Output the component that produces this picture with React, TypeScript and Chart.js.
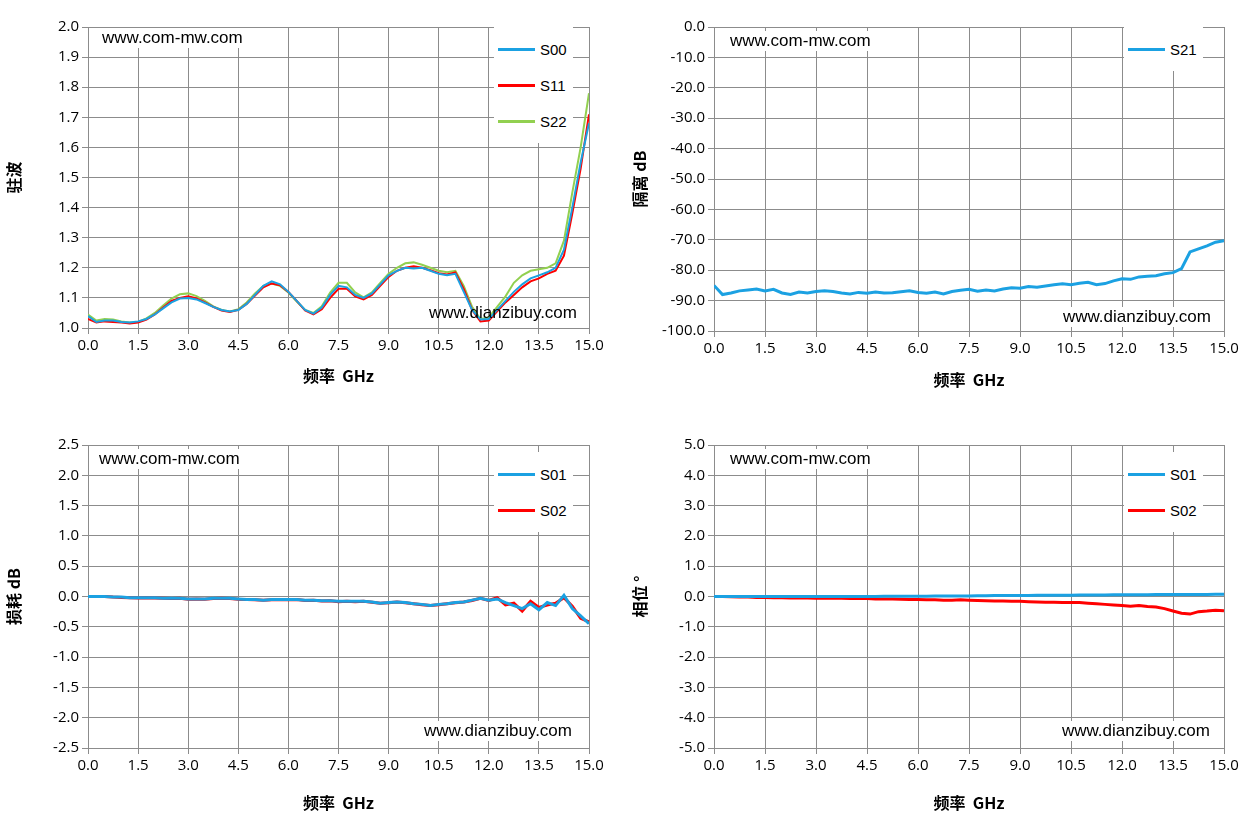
import React, { useEffect, useRef } from "react";
import { Chart, registerables } from "chart.js";
Chart.register(...registerables);

const freq = Array.from({ length: 61 }, (_, i) => i * 0.25);

const s00 = [1.04,1.02,1.025,1.025,1.02,1.018,1.022,1.03,1.045,1.065,1.085,1.098,1.1,1.095,1.083,1.07,1.06,1.055,1.06,1.08,1.11,1.14,1.155,1.145,1.12,1.09,1.06,1.048,1.068,1.11,1.14,1.135,1.11,1.1,1.115,1.145,1.175,1.19,1.2,1.198,1.2,1.19,1.18,1.175,1.18,1.12,1.06,1.028,1.03,1.06,1.09,1.12,1.145,1.165,1.175,1.185,1.2,1.26,1.4,1.55,1.68];
const s11 = [1.03,1.018,1.022,1.02,1.018,1.015,1.018,1.028,1.045,1.068,1.09,1.1,1.105,1.098,1.085,1.07,1.058,1.053,1.06,1.08,1.108,1.135,1.148,1.142,1.12,1.09,1.058,1.045,1.062,1.1,1.13,1.13,1.105,1.095,1.11,1.14,1.17,1.19,1.2,1.205,1.2,1.192,1.182,1.178,1.185,1.13,1.06,1.022,1.025,1.055,1.085,1.11,1.135,1.155,1.165,1.18,1.19,1.24,1.38,1.53,1.71];
const s22 = [1.045,1.025,1.03,1.028,1.022,1.018,1.02,1.032,1.05,1.075,1.098,1.112,1.115,1.106,1.09,1.072,1.06,1.055,1.062,1.085,1.115,1.14,1.148,1.14,1.118,1.088,1.06,1.05,1.072,1.118,1.15,1.15,1.118,1.102,1.118,1.15,1.18,1.2,1.215,1.218,1.21,1.2,1.19,1.185,1.19,1.14,1.07,1.03,1.035,1.07,1.105,1.15,1.175,1.19,1.195,1.2,1.215,1.29,1.45,1.6,1.78];

const s21 = [-85,-88,-87.5,-86.8,-86.5,-86.2,-86.8,-86.3,-87.5,-88,-87.2,-87.5,-87,-86.8,-87,-87.5,-87.8,-87.3,-87.6,-87.2,-87.5,-87.4,-87.1,-86.8,-87.3,-87.6,-87.2,-87.8,-87,-86.6,-86.3,-86.9,-86.5,-86.8,-86.2,-85.8,-85.9,-85.4,-85.6,-85.2,-84.8,-84.5,-84.8,-84.3,-84,-84.8,-84.4,-83.5,-82.8,-83,-82.2,-82,-81.8,-81.2,-80.8,-79.5,-74,-73,-72,-70.8,-70.3];

const s01 = [0,0,0,-0.01,-0.01,-0.02,-0.02,-0.02,-0.02,-0.03,-0.03,-0.03,-0.04,-0.04,-0.04,-0.03,-0.03,-0.03,-0.04,-0.05,-0.05,-0.06,-0.05,-0.05,-0.05,-0.05,-0.06,-0.06,-0.07,-0.07,-0.08,-0.08,-0.08,-0.08,-0.09,-0.11,-0.1,-0.09,-0.1,-0.12,-0.13,-0.15,-0.13,-0.12,-0.1,-0.09,-0.06,-0.03,-0.06,-0.04,-0.1,-0.15,-0.2,-0.12,-0.22,-0.1,-0.15,0.02,-0.2,-0.32,-0.45];
const s02 = [0,0,0,-0.01,-0.015,-0.02,-0.025,-0.02,-0.025,-0.03,-0.035,-0.03,-0.045,-0.04,-0.045,-0.035,-0.03,-0.035,-0.045,-0.05,-0.055,-0.06,-0.055,-0.05,-0.055,-0.05,-0.065,-0.06,-0.075,-0.07,-0.085,-0.08,-0.085,-0.08,-0.095,-0.11,-0.105,-0.09,-0.105,-0.12,-0.135,-0.15,-0.135,-0.12,-0.105,-0.09,-0.065,-0.03,-0.065,-0.02,-0.14,-0.11,-0.24,-0.08,-0.18,-0.14,-0.11,-0.02,-0.16,-0.36,-0.42];

const p01 = [0,0,0,0,0,0,0,0,0,0,0,0,0,0,0,0,0,0,0,0,0.005,0.005,0.01,0.01,0.01,0.01,0.015,0.015,0.02,0.02,0.02,0.025,0.025,0.03,0.03,0.03,0.035,0.035,0.04,0.04,0.04,0.045,0.045,0.05,0.05,0.05,0.05,0.055,0.055,0.06,0.06,0.06,0.065,0.065,0.07,0.07,0.07,0.07,0.07,0.075,0.075];
const p02 = [0,0,-0.01,-0.02,-0.02,-0.03,-0.03,-0.04,-0.04,-0.05,-0.05,-0.05,-0.06,-0.06,-0.06,-0.06,-0.07,-0.07,-0.07,-0.08,-0.08,-0.08,-0.09,-0.1,-0.1,-0.11,-0.11,-0.12,-0.12,-0.11,-0.12,-0.13,-0.14,-0.15,-0.15,-0.16,-0.16,-0.17,-0.18,-0.19,-0.19,-0.2,-0.2,-0.2,-0.22,-0.24,-0.26,-0.28,-0.3,-0.32,-0.3,-0.33,-0.35,-0.4,-0.48,-0.55,-0.58,-0.5,-0.48,-0.45,-0.47];

const BLUE = "#1ba1e2";
const RED = "#ff0000";
const GREEN = "#92d050";
const tickFont = { family: "'Open Sans', 'Liberation Sans', sans-serif", size: 15 };
const titleFont = { family: "'Noto Sans CJK SC', serif", size: 16, weight: "bold" as const };

type Series = { label: string; data: number[]; color: string; width: number };

function Panel(props: {
  left: number; top: number; w: number; h: number;
  yw: number; padTop: number; padRight: number; padBottom: number; xh: number;
  ymin: number; ymax: number; ystep: number; ytitle: string; series: Series[];
}) {
  const ref = useRef<HTMLCanvasElement>(null);
  useEffect(() => {
    const c = new Chart(ref.current!, {
      type: "line",
      data: {
        datasets: props.series.map((s) => ({
          label: s.label,
          data: freq.map((x, i) => ({ x, y: s.data[i] })),
          borderColor: s.color,
          borderWidth: s.width,
          pointRadius: 0,
          tension: 0,
        })),
      },
      options: {
        animation: false,
        responsive: false,
        layout: { padding: { top: props.padTop, right: props.padRight, left: 0, bottom: props.padBottom } },
        plugins: { legend: { display: false }, tooltip: { enabled: false } },
        scales: {
          x: {
            type: "linear", min: 0, max: 15,
            ticks: { stepSize: 1.5, color: "#000", font: tickFont, callback: (v: any) => Number(v).toFixed(1), maxRotation: 0 },
            grid: { color: "#8c8c8c", tickLength: 6 },
            border: { color: "#8c8c8c" },
            title: { display: true, text: "频率  GHz", color: "#000", font: titleFont, padding: { top: 4 } },
            afterFit: (s: any) => { s.height = props.xh; },
          },
          y: {
            min: props.ymin, max: props.ymax,
            ticks: { stepSize: props.ystep, color: "#000", font: tickFont, callback: (v: any) => Number(v).toFixed(1) },
            grid: { color: "#8c8c8c", tickLength: 6 },
            border: { color: "#8c8c8c" },
            title: { display: true, text: props.ytitle, color: "#000", font: titleFont },
            afterFit: (s: any) => { s.width = props.yw; },
          },
        },
      } as any,
    });
    return () => c.destroy();
  }, []);
  return (
    <canvas ref={ref} width={props.w} height={props.h}
      style={{ position: "absolute", left: props.left, top: props.top, width: props.w, height: props.h }} />
  );
}

const txt: React.CSSProperties = { position: "absolute", fontFamily: "'Liberation Sans', Arial, sans-serif", fontSize: 17, color: "#000", lineHeight: "20px", whiteSpace: "nowrap" };
const txtBg: React.CSSProperties = { ...txt, background: "#fff" };

function Legend(props: { x: number; y: number; items: { label: string; color: string }[] }) {
  return (
    <div style={{ position: "absolute", left: props.x, top: props.y, background: "#fff", padding: "4px 6px 4px 4px" }}>
      {props.items.map((it, i) => (
        <div key={i} style={{ display: "flex", alignItems: "center", height: 36 }}>
          <div style={{ width: 37, height: 3, background: it.color, marginRight: 5 }} />
          <span style={{ fontFamily: "'Liberation Sans', Arial, sans-serif", fontSize: 15 }}>{it.label}</span>
        </div>
      ))}
    </div>
  );
}

export default function App() {
  return (
    <div style={{ position: "fixed", left: 0, top: 0, width: 1253, height: 829, background: "#fff" }}>
      <Panel left={0} top={0} w={626} h={414} yw={88} padTop={27} padRight={37} padBottom={24} xh={62}
        ymin={1} ymax={2} ystep={0.1} ytitle="驻波"
        series={[{ label: "S00", data: s00, color: BLUE, width: 2 }, { label: "S11", data: s11, color: RED, width: 2 }, { label: "S22", data: s22, color: GREEN, width: 2 }]} />
      <Panel left={626} top={0} w={627} h={414} yw={88} padTop={27} padRight={29} padBottom={20} xh={63}
        ymin={-100} ymax={0} ystep={10} ytitle="隔离 dB"
        series={[{ label: "S21", data: s21, color: BLUE, width: 3 }]} />
      <Panel left={0} top={414} w={626} h={415} yw={88} padTop={31} padRight={37} padBottom={12} xh={69}
        ymin={-2.5} ymax={2.5} ystep={0.5} ytitle="损耗 dB"
        series={[{ label: "S01", data: s01, color: BLUE, width: 3 }, { label: "S02", data: s02, color: RED, width: 3 }]} />
      <Panel left={626} top={414} w={627} h={415} yw={88} padTop={31} padRight={29} padBottom={12} xh={69}
        ymin={-5} ymax={5} ystep={1} ytitle="相位 °"
        series={[{ label: "S01", data: p01, color: BLUE, width: 3 }, { label: "S02", data: p02, color: RED, width: 3 }]} />

      <div style={{ ...txtBg, left: 102, top: 28 }}>www.com-mw.com</div>
      <div style={{ ...txtBg, left: 730, top: 31 }}>www.com-mw.com</div>
      <div style={{ ...txtBg, left: 99, top: 449 }}>www.com-mw.com</div>
      <div style={{ ...txtBg, left: 730, top: 449 }}>www.com-mw.com</div>
      <div style={{ ...txt, right: 1253 - 577, top: 303 }}>www.dianzibuy.com</div>
      <div style={{ ...txtBg, right: 1253 - 1211, top: 307 }}>www.dianzibuy.com</div>
      <div style={{ ...txtBg, right: 1253 - 572, top: 721 }}>www.dianzibuy.com</div>
      <div style={{ ...txtBg, right: 1253 - 1210, top: 721 }}>www.dianzibuy.com</div>

      <Legend x={494} y={27} items={[{ label: "S00", color: BLUE }, { label: "S11", color: RED }, { label: "S22", color: GREEN }]} />
      <Legend x={1124} y={27} items={[{ label: "S21", color: BLUE }]} />
      <Legend x={494} y={452} items={[{ label: "S01", color: BLUE }, { label: "S02", color: RED }]} />
      <Legend x={1124} y={452} items={[{ label: "S01", color: BLUE }, { label: "S02", color: RED }]} />
    </div>
  );
}
